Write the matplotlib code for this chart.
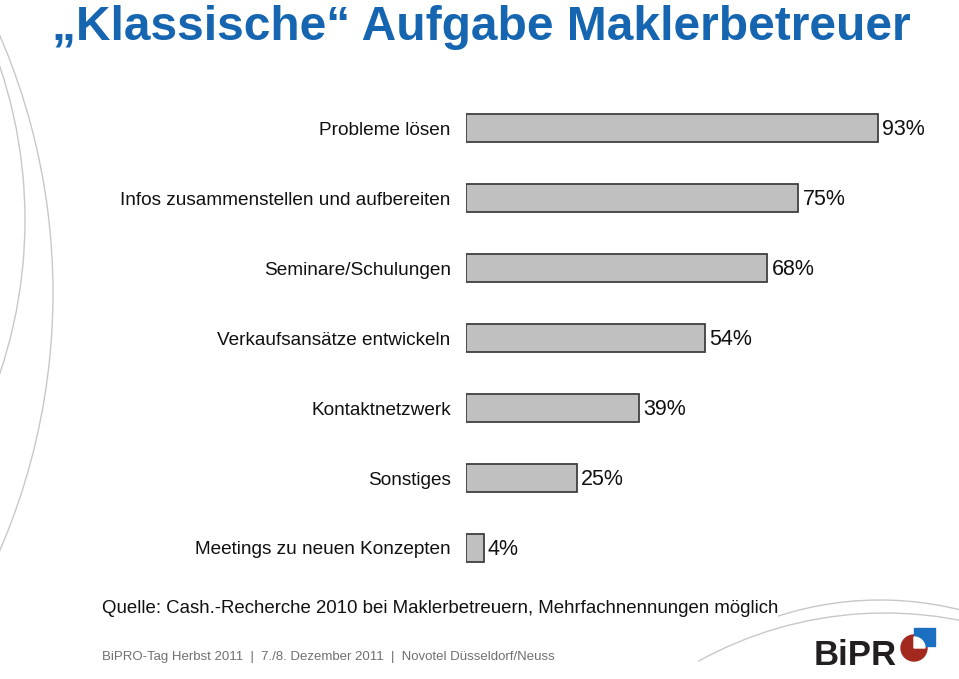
import matplotlib.pyplot as plt
from matplotlib.patches import Arc, Circle, Rectangle, Wedge

plt.rcParams['font.family'] = ['Liberation Sans', 'DejaVu Sans']

# Daten (von oben nach unten)
categories = ['Probleme lösen', 'Infos zusammenstellen und aufbereiten',
              'Seminare/Schulungen', 'Verkaufsansätze entwickeln',
              'Kontaktnetzwerk', 'Sonstiges', 'Meetings zu neuen Konzepten']
values = [93, 75, 68, 54, 39, 25, 4]

W, H = 959, 679
fig = plt.figure(figsize=(W / 100, H / 100), dpi=100)

# Hintergrund-Deko (Boegen) in Pixelkoordinaten, y nach unten
bg = fig.add_axes([0, 0, 1, 1], zorder=0)
bg.set_xlim(0, W)
bg.set_ylim(H, 0)
bg.axis('off')
arc_kw = dict(color='#c8c8c8', lw=1.0)
bg.add_patch(Arc((-597, 293), 1300, 1300, theta1=-30, theta2=30, **arc_kw))
bg.add_patch(Arc((-456, 220), 962, 962, theta1=-25, theta2=25, **arc_kw))
bg.add_patch(Arc((880, 930), 660, 660, theta1=252, theta2=292, **arc_kw))
bg.add_patch(Arc((885, 998), 770, 770, theta1=241, theta2=292, **arc_kw))

# Logo
bg.text(814, 665, 'BiPR', fontsize=25, fontweight='bold', color='#231f20',
        ha='left', va='baseline', zorder=3)
bg.add_patch(Circle((914, 648), 13, color='#a3281d', zorder=3))
bg.add_patch(Rectangle((914, 628), 21, 18, color='#1a6fc0', zorder=4))
bg.add_patch(Wedge((914, 648), 11, 270, 360, color='white', zorder=5))

# Balkendiagramm
left = 466 / W
scale = 4.43  # px pro Prozentpunkt
ax = fig.add_axes([left, 1 - 583 / H, 100 * scale / W, 490 / H], zorder=1)
ax.patch.set_alpha(0)
y = range(len(categories))
ax.barh(y, values, height=0.4, color='#c0c0c0', edgecolor='#404040', lw=1.3)
for yi, v in zip(y, values):
    ax.annotate(f'{v}%', (v, yi), xytext=(3, -1), textcoords='offset points',
                ha='left', va='center', fontsize=15.5, color='#111111')
ax.set_xlim(0, 100)
ax.set_ylim(len(categories) - 0.5, -0.5)
ax.set_yticks(list(y))
ax.set_yticklabels(categories, fontsize=13.7, color='#111111')
ax.tick_params(axis='y', length=0, pad=11)
ax.set_xticks([])
for s in ax.spines.values():
    s.set_visible(False)

# Titel und Texte
fig.text(52 / W, 1 - 40 / H, '„Klassische“ Aufgabe Maklerbetreuer',
         fontsize=34.5, fontweight='bold', color='#1565b0', ha='left', va='baseline')
fig.text(102 / W, 1 - 613 / H,
         'Quelle: Cash.-Recherche 2010 bei Maklerbetreuern, Mehrfachnennungen möglich',
         fontsize=13.4, color='#111111', ha='left', va='baseline')
fig.text(102 / W, 1 - 660 / H,
         'BiPRO-Tag Herbst 2011  |  7./8. Dezember 2011  |  Novotel Düsseldorf/Neuss',
         fontsize=9.5, color='#707070', ha='left', va='baseline')

fig.savefig('out.png', dpi=100)
